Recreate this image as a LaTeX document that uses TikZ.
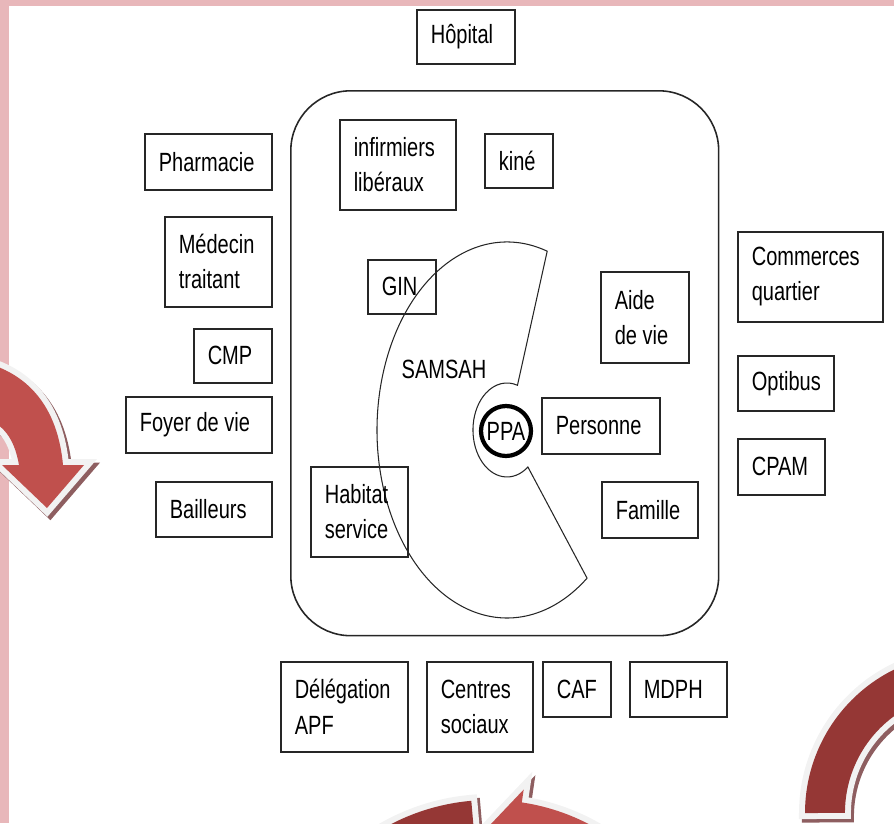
\documentclass[tikz,border=0pt]{standalone}
\usepackage{fontspec}
\setmainfont{Liberation Sans}[FakeStretch=0.76]
\usetikzlibrary{calc,positioning}

\definecolor{cadrerose}{HTML}{E8B7BA}
\definecolor{flecheclair}{HTML}{C0504D}
\definecolor{flechefonce}{HTML}{953735}
\definecolor{flechebord}{HTML}{F2F2F2}
\definecolor{flecheombre}{HTML}{8E5E60}
\definecolor{trait}{HTML}{262626}

\begin{document}
\begin{tikzpicture}[x=0.02cm, y=0.02cm
        , every node/.style={font=\fontsize{15}{20}\selectfont}
        , box/.style={draw=trait, line width=0.9pt, anchor=north west, align=flush left, inner xsep=0.28cm, inner ysep=0pt}
        , fleche/.style={fill=#1
            , preaction={draw=flecheombre, fill=flecheombre, line width=0.24cm, transform canvas={shift={(0.06cm,-0.07cm)}}}
            , preaction={draw=flechebord, line width=0.24cm}}
        ]
        \useasboundingbox (0,0) rectangle (894,-823);
        \fill[cadrerose] (0,0) rectangle (894,-6);
        \fill[cadrerose] (0,0) rectangle (9,-823);

        \begin{scope}
        \clip (0,0) rectangle (894,-823);
        \path[fleche=flecheclair] (-40,-358) .. controls (30,-365) and (58,-410) .. (63,-465) -- (84,-465) -- (47,-508) -- (2,-465) -- (19,-465) .. controls (14,-437) and (2,-416) .. (-40,-412) -- cycle;
        \path[fleche=flechefonce] (805,-813) arc[start angle=180, end angle=70, radius=160] -- (1006,-700.2) arc[start angle=70, end angle=180, radius=120] -- cycle;
        \path[fleche=flechefonce] (471.3,-800.8) arc[start angle=95, end angle=150, radius=215] -- (347.1,-932.5) arc[start angle=150, end angle=95, radius=165] -- cycle;
        \path[fleche=flecheclair] (521.8,-802.4) arc[start angle=81.5, end angle=30, radius=215] -- (632.9,-932.5) arc[start angle=30, end angle=81.5, radius=165] -- (512.5,-864.7) -- (490,-825) -- (523.7,-789.5) -- cycle;
        \end{scope}

        \node (reseau) [draw=trait, line width=0.9pt, rounded corners=1.2cm, anchor=north west, minimum width=8.56cm, minimum height=10.9cm] at (290,-90) {};

        \draw[draw=trait, line width=0.6pt] (547.2,-251.2) arc[start angle=72, end angle=308, x radius=130, y radius=188] -- (527.9,-467.0) arc[start angle=308, end angle=72, x radius=34, y radius=47] -- cycle;
        \node (samsah) at (444,-369) {SAMSAH};
        \node[draw=black, circle, line width=2.4pt, inner sep=0pt, minimum size=1.0cm] (ppa) at (506,-431) {PPA};

        \node[box, text width=1.40cm, minimum height=1.08cm] (hopital) at (416,-9) {Hôpital};

        \node[box, text width=1.98cm, minimum height=1.12cm] (pharmacie) at (144,-133) {Pharmacie};
        \node[box, text width=1.58cm, minimum height=1.80cm] (medecin) at (164,-216) {Médecin\\traitant};
        \node[box, text width=1.00cm, minimum height=1.08cm] (cmp) at (193,-328) {CMP};
        \node[box, text width=2.36cm, minimum height=1.12cm] (foyer) at (125,-396) {Foyer de vie};
        \node[box, text width=1.76cm, minimum height=1.10cm] (bailleurs) at (155,-481) {Bailleurs};

        \node[box, text width=1.76cm, minimum height=1.80cm] (infirmiers) at (339,-119) {infirmiers\\libéraux};
        \node[box, text width=0.80cm, minimum height=1.08cm] (kine) at (484,-133) {kiné};
        \node[box, text width=0.80cm, minimum height=1.08cm] (gin) at (367,-259) {GIN};
        \node[box, text width=1.20cm, minimum height=1.82cm] (aide) at (600,-271) {Aide\\de vie};
        \node[box, text width=1.80cm, minimum height=1.12cm] (personne) at (541,-397) {Personne};
        \node[box, text width=1.38cm, minimum height=1.80cm] (habitat) at (310,-466) {Habitat\\service};
        \node[box, text width=1.36cm, minimum height=1.12cm] (famille) at (601,-481) {Famille};

        \node[box, text width=2.34cm, minimum height=1.80cm] (commerces) at (737,-231) {Commerces\\quartier};
        \node[box, text width=1.36cm, minimum height=1.10cm] (optibus) at (737,-355) {Optibus};
        \node[box, text width=1.18cm, minimum height=1.12cm] (cpam) at (737,-438) {CPAM};

        \node[box, text width=1.98cm, minimum height=1.80cm] (delegation) at (280,-661) {Délégation\\APF};
        \node[box, text width=1.56cm, minimum height=1.80cm] (centres) at (426,-661) {Centres\\sociaux};
        \node[box, text width=0.80cm, minimum height=1.10cm] (caf) at (542,-661) {CAF};
        \node[box, text width=1.38cm, minimum height=1.10cm] (mdph) at (629,-661) {MDPH};
    \end{tikzpicture}
\end{document}
